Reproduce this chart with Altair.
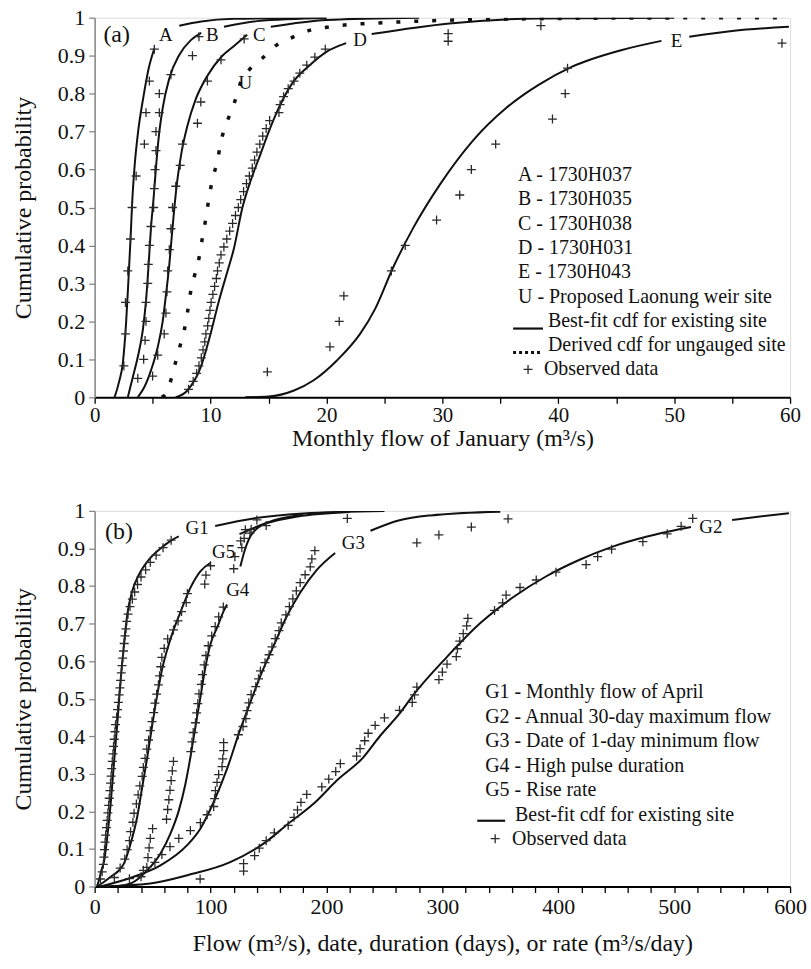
import altair as alt
import pandas as pd

FONT = "Liberation Serif"
LINE_COLOR = "#111111"
MARK_COLOR = "#2a2a2a"
CROSS = "M-1,0L1,0M0,-1L0,1"

# ---------------- Panel (a): monthly flow of January ----------------
xa_ticks = [0, 5, 10, 15, 20, 25, 30, 35, 40, 45, 50, 55, 60]
y_ticks = [0, 0.1, 0.2, 0.3, 0.4, 0.5, 0.6, 0.7, 0.8, 0.9, 1.0]

A_x = [1.72, 2.1, 2.43, 2.72, 2.9, 3.1, 3.25, 3.45, 3.75, 4.2, 4.65, 5.15]
A_y = [0.0, 0.04, 0.09, 0.2, 0.3, 0.42, 0.52, 0.61, 0.7, 0.79, 0.865, 0.919]
A_tail_x = [7.3, 9.2, 12.0, 20.0]
A_tail_y = [0.979, 0.99, 0.997, 1.0]

B_x = [2.86, 3.29, 3.72, 4.15, 4.43, 4.66, 4.86, 5.09, 5.29, 5.52, 5.87, 6.44, 7.3, 8.3, 9.2]
B_y = [0.0, 0.053, 0.106, 0.176, 0.254, 0.351, 0.447, 0.526, 0.605, 0.683, 0.762, 0.84, 0.902, 0.941, 0.96]
B_tail_x = [11.16, 14.0, 20.0]
B_tail_y = [0.976, 0.991, 0.999]

C_x = [3.72, 4.29, 4.86, 5.44, 5.87, 6.15, 6.44, 6.64, 6.87, 7.15, 7.5, 8.01, 8.73, 9.73, 11.0, 12.0, 13.16]
C_y = [0.0, 0.027, 0.071, 0.132, 0.2, 0.27, 0.349, 0.419, 0.497, 0.576, 0.646, 0.716, 0.786, 0.847, 0.899, 0.925, 0.955]
C_tail_x = [15.2, 20.0, 28.0]
C_tail_y = [0.976, 0.994, 1.0]

D_x = [7.0, 8.0, 9.16, 10.0, 10.73, 11.44, 12.0, 12.75, 13.45, 14.3, 14.9, 15.7, 17.0, 18.6, 20.0, 21.7]
D_y = [0.0, 0.018, 0.08, 0.167, 0.255, 0.33, 0.39, 0.5, 0.57, 0.64, 0.69, 0.75, 0.825, 0.876, 0.91, 0.933]
D_tail_x = [23.9, 30.6, 38.3, 50.0]
D_tail_y = [0.957, 0.985, 0.998, 1.0]

E_x = [13.0, 15.0, 17.2, 18.9, 20.9, 22.9, 24.2, 25.75, 27.5, 29.8, 32.6, 35.5, 38.3, 41.2, 45.5, 48.9]
E_y = [0.0, 0.002, 0.018, 0.045, 0.097, 0.167, 0.233, 0.342, 0.447, 0.561, 0.675, 0.762, 0.823, 0.871, 0.915, 0.939]
E_tail_x = [51.3, 55.0, 59.9]
E_tail_y = [0.95, 0.965, 0.976]

U_x = [5.8, 6.3, 6.87, 7.3, 7.73, 8.01, 8.3, 8.58, 9.01, 9.3, 9.58, 9.87, 10.16, 10.59, 10.87,
       11.44, 12.0, 12.6, 13.4, 14.45, 15.7, 17.2, 18.7, 20.3, 22.0, 23.75, 28.0, 35.0, 45.0, 60.0]
U_y = [0.0, 0.018, 0.08, 0.128, 0.176, 0.224, 0.281, 0.316, 0.368, 0.421, 0.469, 0.526, 0.574, 0.622, 0.67,
       0.727, 0.771, 0.83, 0.865, 0.893, 0.928, 0.95, 0.968, 0.976, 0.982, 0.985, 0.991, 0.996, 0.999, 1.0]

A_obs_x = [2.52, 2.66, 2.66, 2.86, 3.09, 3.23, 3.58, 4.29, 4.43, 4.72, 5.15]
A_obs_y = [0.083, 0.167, 0.25, 0.333, 0.417, 0.5, 0.583, 0.667, 0.75, 0.833, 0.917]
B_obs_x = [3.72, 4.23, 4.35, 4.43, 4.43, 4.58, 4.63, 4.72, 4.86, 5.09, 5.15, 5.21, 5.29, 5.29, 5.58, 5.58, 6.58, 8.44, 9.0]
B_obs_y = [0.05, 0.1, 0.15, 0.2, 0.25, 0.3, 0.35, 0.4, 0.45, 0.5, 0.55, 0.6, 0.65, 0.7, 0.75, 0.8, 0.85, 0.9, 0.95]
C_obs_x = [5.0, 5.44, 6.0, 6.15, 6.24, 6.3, 6.44, 6.58, 6.72, 7.0, 7.38, 7.58, 8.87, 9.16, 9.73, 10.9, 12.9]
C_obs_y = [0.056, 0.111, 0.167, 0.222, 0.278, 0.333, 0.389, 0.444, 0.5, 0.556, 0.611, 0.667, 0.722, 0.778, 0.833, 0.889, 0.944]
D_obs_x = [8.1, 8.5, 8.8, 9.0, 9.2, 9.35, 9.5, 9.6, 9.75, 9.85, 9.95, 10.05, 10.2, 10.35, 10.5, 10.6,
           10.75, 10.9, 11.15, 11.4, 11.65, 11.9, 12.15, 12.4, 12.6, 12.85, 13.1, 13.35, 13.6, 13.8,
           14.0, 14.25, 14.5, 14.8, 15.1, 15.9, 16.0, 16.3, 16.7, 17.2, 17.7, 18.3, 19.0, 19.9, 30.5, 30.5, 38.5]
D_obs_y = [0.021, 0.042, 0.063, 0.083, 0.104, 0.125, 0.146, 0.167, 0.188, 0.208, 0.229, 0.25, 0.271, 0.292,
           0.313, 0.333, 0.354, 0.375, 0.396, 0.417, 0.438, 0.458, 0.479, 0.5, 0.521, 0.542, 0.563, 0.583,
           0.604, 0.625, 0.646, 0.667, 0.688, 0.708, 0.729, 0.75, 0.771, 0.792, 0.813, 0.833, 0.854, 0.875,
           0.896, 0.917, 0.938, 0.958, 0.979]
E_obs_x = [14.9, 20.3, 21.1, 21.5, 25.6, 26.8, 29.5, 31.5, 32.5, 34.6, 39.5, 40.6, 40.8, 59.3]
E_obs_y = [0.067, 0.133, 0.2, 0.267, 0.333, 0.4, 0.467, 0.533, 0.6, 0.667, 0.733, 0.8, 0.867, 0.933]

a_curve_labels = ["A", "B", "C", "D", "E", "U"]
a_label_x = [6.15, 10.15, 14.2, 22.9, 50.2, 13.0]
a_label_y = [0.954, 0.954, 0.954, 0.94, 0.939, 0.828]
a_panel_tag = ["(a)"]
a_tag_x = [1.9]
a_tag_y = [0.954]

a_legend = ["A - 1730H037", "B - 1730H035", "C - 1730H038", "D - 1730H031", "E - 1730H043",
            "U - Proposed Laonung weir site"]
a_legend_lines = ["Best-fit cdf for existing site", "Derived cdf for ungauged site"]
obs_label = "Observed data"

# ---------------- Panel (b): hydrologic indicators ----------------
xb_ticks = list(range(0, 620, 20))

G1_x = [2.0, 4.0, 6.0, 8.0, 10.9, 13.8, 16.6, 19.5, 22.4, 25.3, 28.1, 32.4, 38.2, 46.8, 56.8, 66.9, 72.6]
G1_y = [0.0, 0.02, 0.045, 0.065, 0.132, 0.22, 0.326, 0.432, 0.548, 0.644, 0.724, 0.786, 0.83, 0.87, 0.9, 0.923, 0.932]
G1_tail_x = [104.0, 137.0, 180.0, 250.0]
G1_tail_y = [0.96, 0.98, 0.993, 1.0]

G5_x = [2.0, 8.0, 13.8, 20.0, 25.2, 31.0, 36.7, 41.0, 45.4, 49.7, 54.0, 58.3, 64.0, 68.3, 74.0, 82.6, 91.2, 100.0]
G5_y = [0.0, 0.012, 0.026, 0.04, 0.061, 0.114, 0.185, 0.264, 0.344, 0.43, 0.51, 0.58, 0.645, 0.685, 0.73, 0.795, 0.839, 0.862]
G5_tail_x = [125.0, 148.0, 175.0, 220.0]
G5_tail_y = [0.938, 0.967, 0.985, 0.997]

G4_x = [3.0, 20.0, 31.0, 45.4, 56.8, 65.4, 72.6, 78.3, 82.6, 86.9, 91.2, 95.5, 99.9, 105.6, 111.3, 114.2]
G4_y = [0.0, 0.001, 0.008, 0.043, 0.088, 0.141, 0.202, 0.273, 0.344, 0.424, 0.503, 0.583, 0.645, 0.689, 0.733, 0.751]
G4_tail_x = [125.7, 130.0, 136.0, 150.0, 180.0]
G4_tail_y = [0.852, 0.9, 0.94, 0.97, 0.99]

G3_x = [5.0, 33.9, 56.8, 79.8, 91.2, 102.7, 114.2, 125.7, 134.3, 142.9, 154.3, 165.9, 177.3, 191.7, 207.5]
G3_y = [0.0, 0.026, 0.056, 0.11, 0.154, 0.225, 0.313, 0.419, 0.49, 0.56, 0.64, 0.72, 0.782, 0.843, 0.888]
G3_tail_x = [238.0, 263.0, 290.0, 350.0]
G3_tail_y = [0.947, 0.975, 0.988, 0.998]

G2_x = [5.0, 48.0, 80.0, 117.0, 145.7, 167.0, 188.8, 208.9, 231.8, 246.0, 263.0, 275.0, 303.6, 332.3,
        361.0, 389.7, 418.4, 447.0, 475.8, 504.4, 514.5]
G2_y = [0.0, 0.008, 0.03, 0.065, 0.114, 0.167, 0.22, 0.282, 0.344, 0.4, 0.46, 0.51, 0.61, 0.7,
        0.77, 0.826, 0.87, 0.905, 0.931, 0.951, 0.957]
G2_tail_x = [550.0, 599.0]
G2_tail_y = [0.976, 0.994]

G1_obs_x = [5, 6.5, 7.5, 8.0, 8.5, 9.0, 9.5, 10.2, 10.8, 11.4, 12.1, 12.6, 13.2, 13.7, 14.2, 14.7, 15.2,
            15.8, 16.3, 16.9, 17.5, 18.0, 19.0, 19.8, 20.5, 21.2, 21.8, 22.4, 23.0, 23.6, 24.2, 24.9, 25.5,
            26.2, 27.0, 27.7, 28.8, 30.5, 32.5, 34.5, 37, 40, 44, 48, 53, 59, 66, 134, 148, 218]
G1_obs_y = [0.02, 0.039, 0.059, 0.078, 0.098, 0.118, 0.137, 0.157, 0.176, 0.196, 0.216, 0.235, 0.255,
            0.275, 0.294, 0.314, 0.333, 0.353, 0.373, 0.392, 0.412, 0.431, 0.451, 0.471, 0.49, 0.51,
            0.529, 0.549, 0.569, 0.588, 0.608, 0.627, 0.647, 0.667, 0.686, 0.706, 0.725, 0.745, 0.765,
            0.784, 0.804, 0.824, 0.843, 0.863, 0.882, 0.902, 0.922, 0.941, 0.961, 0.98]
G2_obs_x = [91, 128.5, 128.5, 138, 142, 148, 155, 167, 172, 175, 178, 183, 196, 202, 208, 212, 226, 229,
            233, 236, 242, 250, 263, 274, 276, 278, 297, 300, 304, 312, 313, 315, 318, 321, 322, 345, 352,
            355, 367, 381, 398, 424, 434, 446, 473, 494, 506, 516]
G2_obs_y = [0.02, 0.041, 0.061, 0.082, 0.102, 0.122, 0.143, 0.163, 0.184, 0.204, 0.224, 0.245, 0.265,
            0.286, 0.306, 0.327, 0.347, 0.367, 0.388, 0.408, 0.429, 0.449, 0.469, 0.49, 0.51, 0.531,
            0.551, 0.571, 0.592, 0.612, 0.633, 0.653, 0.673, 0.694, 0.714, 0.735, 0.755, 0.776, 0.796,
            0.816, 0.837, 0.857, 0.878, 0.898, 0.918, 0.939, 0.959, 0.98]
G3_obs_x = [30, 42, 52, 58, 65, 72.6, 82.6, 91.2, 97, 102.7, 103.5, 104.2, 105.6, 107, 109.9, 110.5,
            111.3, 111.3, 124, 128, 130.5, 131.5, 133, 135, 139, 141.4, 143, 147, 150.5, 153, 155.8, 159,
            161, 165, 168, 171, 174, 177.3, 181.6, 186, 187.4, 190, 278, 297, 325, 356.7]
G3_obs_y = [0.021, 0.043, 0.064, 0.085, 0.106, 0.128, 0.149, 0.17, 0.191, 0.213, 0.234, 0.255, 0.277,
            0.298, 0.319, 0.34, 0.362, 0.383, 0.404, 0.426, 0.447, 0.468, 0.489, 0.511, 0.532, 0.553,
            0.574, 0.596, 0.617, 0.638, 0.66, 0.681, 0.702, 0.723, 0.745, 0.766, 0.787, 0.809, 0.83,
            0.851, 0.872, 0.894, 0.915, 0.936, 0.957, 0.979]
G4_obs_x = [40, 45, 46, 47, 48, 50, 62, 63, 64, 65, 66, 67, 68, 83, 84, 85, 87, 88, 89, 90, 92, 93,
            94.5, 96, 98, 101, 104, 107, 111, 120, 126, 130]
G4_obs_y = [0.026, 0.051, 0.077, 0.103, 0.128, 0.154, 0.179, 0.205, 0.231, 0.256, 0.282, 0.308, 0.333,
            0.359, 0.385, 0.41, 0.436, 0.462, 0.487, 0.513, 0.538, 0.564, 0.59, 0.615, 0.641, 0.667,
            0.692, 0.718, 0.744, 0.846, 0.92, 0.95]
G5_obs_x = [17, 22, 26, 28, 30, 31, 33, 34, 36, 37.5, 39, 41, 42, 43.5, 45, 46.5, 48, 49.5, 51, 52,
            53.5, 55, 56, 57, 58, 60, 63, 68, 72, 75, 79, 80, 95, 96, 100, 121, 127, 129, 135, 140]
G5_obs_y = [0.024, 0.049, 0.073, 0.098, 0.122, 0.146, 0.171, 0.195, 0.22, 0.244, 0.268, 0.293, 0.317,
            0.341, 0.366, 0.39, 0.415, 0.439, 0.463, 0.488, 0.512, 0.537, 0.561, 0.585, 0.61, 0.634,
            0.659, 0.683, 0.707, 0.732, 0.756, 0.78, 0.805, 0.829, 0.854, 0.878, 0.902, 0.927, 0.951, 0.976]

b_curve_labels = ["G1", "G5", "G4", "G3", "G2"]
b_label_x = [88.4, 111.3, 123.4, 223.2, 531.7]
b_label_y = [0.954, 0.89, 0.79, 0.914, 0.957]
b_panel_tag = ["(b)"]
b_tag_x = [21.0]
b_tag_y = [0.945]

b_legend = ["G1 - Monthly flow of April", "G2 - Annual 30-day maximum flow",
            "G3 - Date of 1-day minimum flow", "G4 - High pulse duration", "G5 - Rise rate"]
b_legend_lines = ["Best-fit cdf for existing site"]


# ---------------- helpers ----------------
def curves_frame(curves):
    rows = []
    for name, segs in curves:
        for si, (xs, ys) in enumerate(segs):
            for i, (x, y) in enumerate(zip(xs, ys)):
                rows.append({"seg": f"{name}-{si}", "x": x, "y": y, "i": i})
    return pd.DataFrame(rows)


def points_frame(series):
    rows = []
    for name, xs, ys in series:
        for x, y in zip(xs, ys):
            rows.append({"s": name, "x": x, "y": y})
    return pd.DataFrame(rows)


def label_frame(labels, xs, ys):
    return pd.DataFrame({"t": labels, "x": xs, "y": ys})


ONE = pd.DataFrame({"k": [0]})


def const_text(text, px, py, size=20):
    return alt.Chart(ONE).mark_text(text=text, align="left", baseline="middle", font=FONT,
                                    fontSize=size, color="#111").encode(x=alt.value(px), y=alt.value(py))


def const_rule(px1, px2, py, dash=None, width=2.2):
    kw = {"color": LINE_COLOR, "strokeWidth": width}
    if dash is not None:
        kw["strokeDash"] = dash
    return alt.Chart(ONE).mark_rule(**kw).encode(x=alt.value(px1), x2=alt.value(px2), y=alt.value(py))


def const_cross(px, py):
    return alt.Chart(ONE).mark_point(shape=CROSS, size=81, filled=False, stroke=MARK_COLOR,
                                     strokeWidth=1.3, opacity=1).encode(x=alt.value(px), y=alt.value(py))


def make_axes(domain_max, ticks, label_step, title, x_label_pad, x_title_pad, x_label_size):
    X = alt.X("x:Q", scale=alt.Scale(domain=[0, domain_max], nice=False, zero=False),
              axis=alt.Axis(values=ticks, labelExpr=f"datum.value % {label_step} === 0 ? datum.label : ''",
                            title=title, grid=False, domainColor="#000", domainWidth=2,
                            tickColor="#000", tickWidth=1.3, tickSize=6, labelPadding=x_label_pad,
                            labelFont=FONT, labelFontSize=x_label_size, labelColor="#111",
                            titleFont=FONT, titleFontSize=24, titleFontWeight="normal",
                            titleColor="#111", titlePadding=x_title_pad, labelFlush=False))
    Y = alt.Y("y:Q", scale=alt.Scale(domain=[0, 1], nice=False, zero=False),
              axis=alt.Axis(values=y_ticks, format=".1~f", title="Cumulative probability", grid=False,
                            domainColor="#888", domainWidth=1.5, tickColor="#888", tickWidth=1.3,
                            tickSize=6, labelPadding=4, labelFont=FONT, labelFontSize=22,
                            labelColor="#111", titleFont=FONT, titleFontSize=24,
                            titleFontWeight="normal", titleColor="#111", titlePadding=22))
    return X, Y


def text_layer(frame, X, Y, size):
    return alt.Chart(frame).mark_text(font=FONT, fontSize=size, color="#111", align="center",
                                      baseline="middle").encode(x=X, y=Y, text="t:N")


# ---------------- Panel (a) ----------------
Xa, Ya = make_axes(60, xa_ticks, 10, "Monthly flow of January (m³/s)", 1, 1, 21)

solid_a = curves_frame([
    ("A", [(A_x, A_y), (A_tail_x, A_tail_y)]),
    ("B", [(B_x, B_y), (B_tail_x, B_tail_y)]),
    ("C", [(C_x, C_y), (C_tail_x, C_tail_y)]),
    ("D", [(D_x, D_y), (D_tail_x, D_tail_y)]),
    ("E", [(E_x, E_y), (E_tail_x, E_tail_y)]),
])
dotted_a = curves_frame([("U", [(U_x, U_y)])])
obs_a = points_frame([("A", A_obs_x, A_obs_y), ("B", B_obs_x, B_obs_y), ("C", C_obs_x, C_obs_y),
                      ("D", D_obs_x, D_obs_y), ("E", E_obs_x, E_obs_y)])

lines_a = alt.Chart(solid_a).mark_line(color=LINE_COLOR, strokeWidth=2, interpolate="monotone", clip=True).encode(
    x=Xa, y=Ya, detail="seg:N", order="i:Q")
u_line = alt.Chart(dotted_a).mark_line(color=LINE_COLOR, strokeWidth=3.5, strokeDash=[4, 14],
                                       interpolate="monotone", clip=True).encode(
    x=Xa, y=Ya, detail="seg:N", order="i:Q")
pts_a = alt.Chart(obs_a).mark_point(shape=CROSS, size=81, filled=False, stroke=MARK_COLOR, strokeWidth=1.3,
                                    opacity=1, clip=True).encode(x=Xa, y=Ya)
labs_a = text_layer(label_frame(a_curve_labels, a_label_x, a_label_y), Xa, Ya, 19)
tag_a = text_layer(label_frame(a_panel_tag, a_tag_x, a_tag_y), Xa, Ya, 24)

leg_a = []
for i, s in enumerate(a_legend):
    leg_a.append(const_text(s, 425, 158 + 24.4 * i))
for i, s in enumerate(a_legend_lines):
    leg_a.append(const_text(s, 455, 158 + 24.4 * (6 + i)))
leg_a.append(const_rule(420, 450, 312))
leg_a.append(const_rule(420, 450, 336, dash=[3, 3], width=3))
leg_a.append(const_cross(435, 353))
leg_a.append(const_text(obs_label, 451, 353))

panel_a = alt.layer(lines_a, u_line, pts_a, labs_a, tag_a, *leg_a).properties(width=698, height=381)

# ---------------- Panel (b) ----------------
Xb, Yb = make_axes(600, xb_ticks, 100, "Flow (m³/s), date, duration (days), or rate (m³/s/day)", 4, 14, 22)

solid_b = curves_frame([
    ("G1", [(G1_x, G1_y), (G1_tail_x, G1_tail_y)]),
    ("G5", [(G5_x, G5_y), (G5_tail_x, G5_tail_y)]),
    ("G4", [(G4_x, G4_y), (G4_tail_x, G4_tail_y)]),
    ("G3", [(G3_x, G3_y), (G3_tail_x, G3_tail_y)]),
    ("G2", [(G2_x, G2_y), (G2_tail_x, G2_tail_y)]),
])
obs_b = points_frame([("G1", G1_obs_x, G1_obs_y), ("G2", G2_obs_x, G2_obs_y), ("G3", G3_obs_x, G3_obs_y),
                      ("G4", G4_obs_x, G4_obs_y), ("G5", G5_obs_x, G5_obs_y)])

lines_b = alt.Chart(solid_b).mark_line(color=LINE_COLOR, strokeWidth=2, interpolate="monotone", clip=True).encode(
    x=Xb, y=Yb, detail="seg:N", order="i:Q")
pts_b = alt.Chart(obs_b).mark_point(shape=CROSS, size=81, filled=False, stroke=MARK_COLOR, strokeWidth=1.3,
                                    opacity=1, clip=True).encode(x=Xb, y=Yb)
labs_b = text_layer(label_frame(b_curve_labels, b_label_x, b_label_y), Xb, Yb, 19)
tag_b = text_layer(label_frame(b_panel_tag, b_tag_x, b_tag_y), Xb, Yb, 24)

leg_b = []
for i, s in enumerate(b_legend):
    leg_b.append(const_text(s, 392, 182 + 24.6 * i))
for i, s in enumerate(b_legend_lines):
    leg_b.append(const_text(s, 422, 182 + 24.6 * (5 + i)))
leg_b.append(const_rule(384, 412, 311))
leg_b.append(const_cross(402, 329))
leg_b.append(const_text(obs_label, 419, 329))

panel_b = alt.layer(lines_b, pts_b, labs_b, tag_b, *leg_b).properties(width=698, height=377)

chart = alt.vconcat(panel_a, panel_b, spacing=48).properties(
    padding={"left": 11, "top": 4, "right": 4, "bottom": 4}
).configure_view(stroke="#999", strokeWidth=1.3).configure(font=FONT)

chart.save("out.html", embed_options={"renderer": "svg", "actions": False})
